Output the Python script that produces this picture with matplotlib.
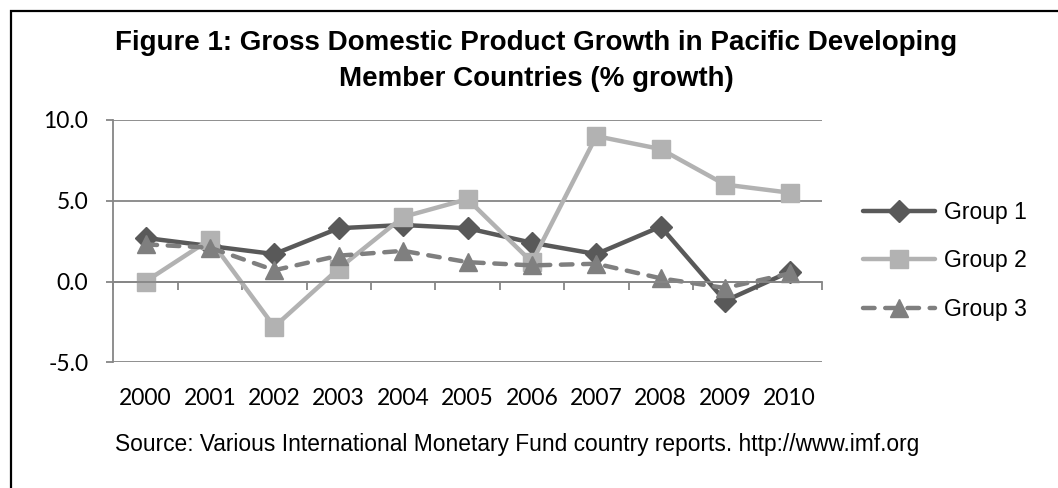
import numpy as np
import matplotlib.pyplot as plt
from matplotlib.patches import Rectangle

# GDP growth (%) by year for the three country groups
years = ['2000', '2001', '2002', '2003', '2004', '2005',
         '2006', '2007', '2008', '2009', '2010']
group1 = [2.7, 2.2, 1.7, 3.3, 3.5, 3.3, 2.4, 1.7, 3.4, -1.2, 0.6]
group2 = [0.0, 2.6, -2.8, 0.8, 4.0, 5.1, 1.2, 9.0, 8.2, 6.0, 5.5]
group3 = [2.3, 2.1, 0.7, 1.6, 1.9, 1.2, 1.0, 1.1, 0.2, -0.4, 0.5]
ytick_vals = [-5, 0, 5, 10]
ytick_labels = ['-5.0', '0.0', '5.0', '10.0']

W, H = 1058, 488
fig = plt.figure(figsize=(W / 100, H / 100), dpi=100)
ax = fig.add_axes([113.3 / W, 1 - 362.3 / H, (821.7 - 113.3) / W, (362.3 - 120) / H])

x = np.arange(len(years))
grey = '#868686'

ax.plot(x, group1, color='#595959', lw=3.2, marker='D', ms=11,
        label='Group 1', solid_capstyle='round')
ax.plot(x, group2, color='#b2b2b2', lw=3.2, marker='s', ms=13,
        label='Group 2', solid_capstyle='round')
ax.plot(x, group3, color='#7f7f7f', lw=3.2, marker='^', ms=13,
        label='Group 3', dashes=(2.6, 2.4), dash_capstyle='round')

ax.set_xlim(-0.5, len(years) - 0.5)
ax.set_ylim(-5, 10)

# y axis: gridlines and short outward ticks
ax.set_yticks(ytick_vals, labels=ytick_labels)
ax.yaxis.grid(True, color=grey, lw=1.3)
ax.set_axisbelow(True)
ax.tick_params(axis='y', length=5, width=1.3, color=grey, pad=13,
               labelsize=16.5, labelfontfamily='Lato')

# category axis crosses at zero, ticks between categories
ax.spines['bottom'].set_position(('data', 0))
ax.spines['bottom'].set_color(grey)
ax.spines['bottom'].set_linewidth(1.3)
ax.spines['left'].set_color(grey)
ax.spines['left'].set_linewidth(1.3)
ax.spines['top'].set_visible(False)
ax.spines['right'].set_visible(False)
ax.set_xticks(np.arange(-0.5, len(years)), labels=[])
ax.tick_params(axis='x', which='major', length=6, width=1.3, color=grey,
               direction='out')
ax.set_xticks(x, labels=years, minor=True)
ax.tick_params(axis='x', which='minor', length=0, pad=77,
               labelsize=16.5, labelfontfamily='Lato')

fig.text(0.507, 1 - 61 / H, 'Figure 1: Gross Domestic Product Growth in Pacific Developing\n'
         'Member Countries (% growth)', ha='center', va='center',
         fontsize=20, fontweight='bold', family='Liberation Sans', linespacing=1.45)

fig.text(517 / W, 1 - 445 / H,
         'Source: Various International Monetary Fund country reports. http://www.imf.org',
         ha='center', va='center', fontsize=16.4, family='Liberation Sans')

fig.legend(loc='center left', bbox_to_anchor=(852 / W, 1 - 261 / H),
           frameon=False, borderpad=0, handlelength=3.1, handletextpad=0.4,
           labelspacing=1.1, prop={'family': 'Liberation Sans', 'size': 16.5})

# outer frame (right and bottom sides fall outside the canvas)
fig.add_artist(Rectangle((11 / W, -0.1), 1.5, 1 - 11 / H + 0.1,
                         transform=fig.transFigure, fill=False,
                         ec='black', lw=1.6, clip_on=False))

fig.savefig('out.png', dpi=100)
